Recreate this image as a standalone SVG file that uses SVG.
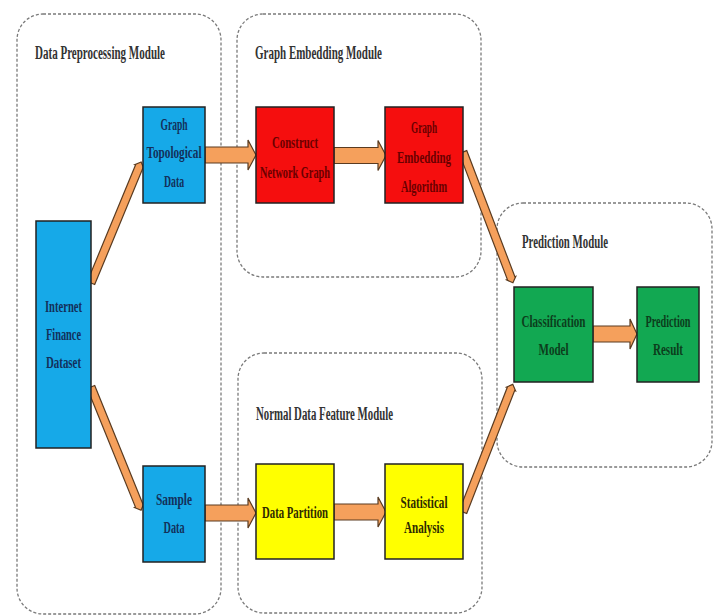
<svg xmlns="http://www.w3.org/2000/svg" width="718" height="616" viewBox="0 0 718 616">
<style>
.mod{fill:#ffffff;stroke:#7a7a7a;stroke-width:1.3;stroke-dasharray:3 2}
.mt{font-family:"Liberation Serif",serif;font-weight:bold;font-size:18px;fill:#333333}
.nt{font-family:"Liberation Serif",serif;font-weight:bold;font-size:17px;text-anchor:middle}
.box{stroke:#222222;stroke-width:1.5}
.blue{fill:#16A9E8}.red{fill:#F50E0E}.yel{fill:#FFFF00}.grn{fill:#12A852}
.tb{fill:#13305a}.tr{fill:#6a0000}.ty{fill:#2e2a00}.tg{fill:#0c3d1c}
.arr{fill:#F5A05C;stroke:#5a3b20;stroke-width:1.2;stroke-linejoin:miter}
</style>
<rect width="718" height="616" fill="#ffffff"/>
<g id="modules">
<g id="mod-data-preprocessing"><rect class="mod" x="17" y="14" width="204" height="600" rx="26"/><text class="mt" x="35" y="59" textLength="130" lengthAdjust="spacingAndGlyphs">Data Preprocessing Module</text></g>
<g id="mod-graph-embedding"><rect class="mod" x="237" y="14" width="244" height="263" rx="26"/><text class="mt" x="255" y="59" textLength="127" lengthAdjust="spacingAndGlyphs">Graph Embedding Module</text></g>
<g id="mod-normal-data"><rect class="mod" x="238" y="353" width="244" height="260" rx="26"/><text class="mt" x="256" y="420" textLength="137" lengthAdjust="spacingAndGlyphs">Normal Data Feature Module</text></g>
<g id="mod-prediction"><rect class="mod" x="497" y="203" width="215" height="264" rx="26"/><text class="mt" x="522" y="248" textLength="86" lengthAdjust="spacingAndGlyphs">Prediction Module</text></g>
</g>
<g id="connectors">
<polygon class="arr" transform="translate(205,155)" points="0,-8 43,-8 43,-15 51,0 43,15 43,8 0,8"/>
<polygon class="arr" transform="translate(334,155.5)" points="0,-8 44,-8 44,-15 52,0 44,15 44,8 0,8"/>
<polygon class="arr" transform="translate(205,513)" points="0,-8 43,-8 43,-15 51,0 43,15 43,8 0,8"/>
<polygon class="arr" transform="translate(334,512)" points="0,-8 44,-8 44,-15 52,0 44,15 44,8 0,8"/>
<polygon class="arr" transform="translate(593,334)" points="0,-8 37,-8 37,-15 44,0 37,15 37,8 0,8"/>
<polygon class="arr" transform="translate(91,283) rotate(-67.5)" points="0,-4 126,-4 126,-5 131,0 126,5 126,4 0,4"/>
<polygon class="arr" transform="translate(91,387) rotate(67.9)" points="0,-4 128,-4 128,-5 133,0 128,5 128,4 0,4"/>
<polygon class="arr" transform="translate(463,152) rotate(69.1)" points="0,-4 135,-4 135,-5 140,0 135,5 135,4 0,4"/>
<polygon class="arr" transform="translate(463,512) rotate(-68.7)" points="0,-4 132,-4 132,-5 137,0 132,5 132,4 0,4"/>
</g>
<g id="node-internet-finance"><rect class="box blue" x="36" y="221" width="55" height="227"/>
<text class="nt tb" x="63.5" y="312" textLength="37" lengthAdjust="spacingAndGlyphs">Internet</text>
<text class="nt tb" x="63.5" y="340" textLength="35" lengthAdjust="spacingAndGlyphs">Finance</text>
<text class="nt tb" x="63.5" y="368" textLength="35" lengthAdjust="spacingAndGlyphs">Dataset</text></g>
<g id="node-graph-topological"><rect class="box blue" x="143" y="107" width="62" height="96"/>
<text class="nt tb" x="174" y="130" textLength="27" lengthAdjust="spacingAndGlyphs">Graph</text>
<text class="nt tb" x="174" y="158" textLength="55" lengthAdjust="spacingAndGlyphs">Topological</text>
<text class="nt tb" x="174" y="187" textLength="20" lengthAdjust="spacingAndGlyphs">Data</text></g>
<g id="node-sample-data"><rect class="box blue" x="143" y="466" width="62" height="96"/>
<text class="nt tb" x="174" y="505" textLength="36" lengthAdjust="spacingAndGlyphs">Sample</text>
<text class="nt tb" x="174" y="533" textLength="21" lengthAdjust="spacingAndGlyphs">Data</text></g>
<g id="node-construct-network"><rect class="box red" x="256" y="107" width="78" height="96"/>
<text class="nt tr" x="295" y="148" textLength="46" lengthAdjust="spacingAndGlyphs">Construct</text>
<text class="nt tr" x="295" y="178" textLength="70" lengthAdjust="spacingAndGlyphs">Network Graph</text></g>
<g id="node-graph-embedding-algorithm"><rect class="box red" x="385" y="107" width="78" height="96"/>
<text class="nt tr" x="424" y="133" textLength="26" lengthAdjust="spacingAndGlyphs">Graph</text>
<text class="nt tr" x="424" y="163" textLength="54" lengthAdjust="spacingAndGlyphs">Embedding</text>
<text class="nt tr" x="424" y="192" textLength="46" lengthAdjust="spacingAndGlyphs">Algorithm</text></g>
<g id="node-data-partition"><rect class="box yel" x="256" y="464" width="78" height="95"/>
<text class="nt ty" x="295" y="518" textLength="66" lengthAdjust="spacingAndGlyphs">Data Partition</text></g>
<g id="node-statistical-analysis"><rect class="box yel" x="385" y="464" width="78" height="95"/>
<text class="nt ty" x="424" y="508" textLength="47" lengthAdjust="spacingAndGlyphs">Statistical</text>
<text class="nt ty" x="424" y="533" textLength="40" lengthAdjust="spacingAndGlyphs">Analysis</text></g>
<g id="node-classification-model"><rect class="box grn" x="514" y="287" width="79" height="95"/>
<text class="nt tg" x="553.5" y="327" textLength="64" lengthAdjust="spacingAndGlyphs">Classification</text>
<text class="nt tg" x="553.5" y="355" textLength="30" lengthAdjust="spacingAndGlyphs">Model</text></g>
<g id="node-prediction-result"><rect class="box grn" x="637" y="287" width="62" height="95"/>
<text class="nt tg" transform="translate(668,327) scale(0.6,1)" x="0" y="0">Prediction</text>
<text class="nt tg" x="668" y="355" textLength="30" lengthAdjust="spacingAndGlyphs">Result</text></g>
</svg>
